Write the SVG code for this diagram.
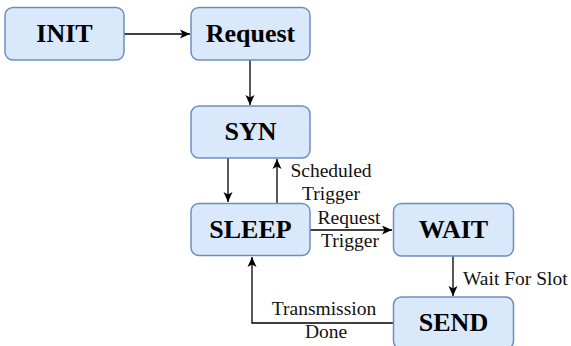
<svg xmlns="http://www.w3.org/2000/svg" width="571" height="346" viewBox="0 0 571 346">
<defs>
<marker id="ah" markerWidth="12" markerHeight="12" refX="11" refY="6" orient="auto" markerUnits="userSpaceOnUse">
<path d="M1,1.5 L11,6 L1,10.5 L3.5,6 Z" fill="#000"/>
</marker>
</defs>
<style>
.node rect{fill:#dae8fc;stroke:#6c8ebf;stroke-width:1.5}
.node text{font-family:"Liberation Serif","Times New Roman",serif;font-weight:bold;font-size:26px;text-anchor:middle;fill:#000}
.edges path{fill:none;stroke:#000;stroke-width:1.3;marker-end:url(#ah)}
.lbl{font-family:"Liberation Serif","Times New Roman",serif;font-size:19.5px;fill:#111}
</style>
<rect width="571" height="346" fill="#fff"/>
<g class="edges" id="connectors">
<path d="M124,34 L190,34"/>
<path d="M250,60 L250,105"/>
<path d="M228,158 L228,202"/>
<path d="M277,203 L277,159"/>
<path d="M310,230 L392,230"/>
<path d="M453,256 L453,296"/>
<path d="M393,323 L252,323 L252,257"/>
</g>
<g id="labels">
<text class="lbl" x="331" y="177" text-anchor="middle">Scheduled</text>
<text class="lbl" x="331" y="200" text-anchor="middle">Trigger</text>
<text class="lbl" x="349" y="224" text-anchor="middle">Request</text>
<text class="lbl" x="350" y="247" text-anchor="middle">Trigger</text>
<text class="lbl" x="463" y="285">Wait For Slot</text>
<text class="lbl" x="324" y="315" text-anchor="middle">Transmission</text>
<text class="lbl" x="326" y="338" text-anchor="middle">Done</text>
</g>
<g class="node" id="init"><rect x="5" y="7.5" width="119" height="52.5" rx="8"/><text x="64.5" y="42">INIT</text></g>
<g class="node" id="request"><rect x="191" y="7.5" width="119" height="52.5" rx="8"/><text x="250.5" y="42">Request</text></g>
<g class="node" id="syn"><rect x="191" y="106" width="119" height="52" rx="8"/><text x="250.5" y="140">SYN</text></g>
<g class="node" id="sleep"><rect x="191" y="203.5" width="119" height="52" rx="8"/><text x="250.5" y="238">SLEEP</text></g>
<g class="node" id="wait"><rect x="393.5" y="203.5" width="120" height="52.5" rx="8"/><text x="453.5" y="238">WAIT</text></g>
<g class="node" id="send"><rect x="393.5" y="297" width="120" height="52" rx="8"/><text x="453.5" y="331">SEND</text></g>
</svg>
